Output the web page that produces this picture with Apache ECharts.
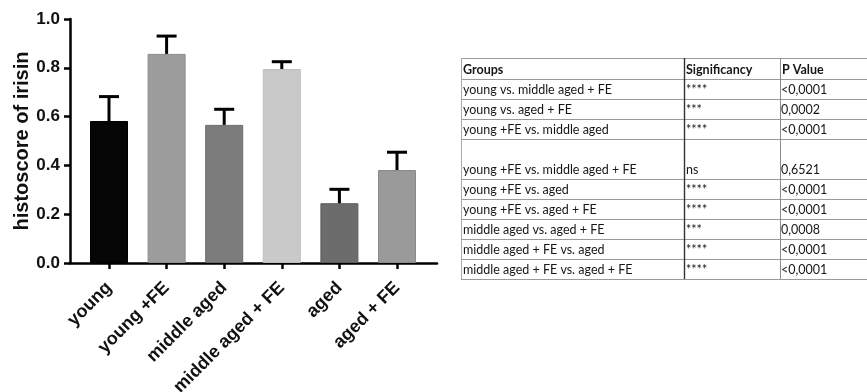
<!DOCTYPE html>
<html><head><meta charset="utf-8">
<script src="https://cdn.jsdelivr.net/npm/echarts@6/dist/echarts.min.js"></script>
<style>html,body{margin:0;padding:0;background:#fff}#c{width:867px;height:392px}</style>
</head><body><div id="c"></div>
<script>
// ---- data ----
const categories = ['young', 'young +FE', 'middle aged', 'middle aged + FE', 'aged', 'aged + FE'];
const means = [0.582, 0.857, 0.566, 0.795, 0.245, 0.381];
const sem = [0.100, 0.073, 0.064, 0.030, 0.057, 0.073];
const yTicks = [0.0, 0.2, 0.4, 0.6, 0.8, 1.0];
const tableHeader = ['Groups', 'Significancy', 'P Value'];
const comparisons = [
  'young vs. middle aged + FE',
  'young vs. aged + FE',
  'young +FE vs. middle aged',
  'young +FE vs. middle aged + FE',
  'young +FE vs. aged',
  'young +FE vs. aged + FE',
  'middle aged vs. aged + FE',
  'middle aged + FE vs. aged',
  'middle aged + FE vs. aged + FE'
];
const significance = ['****', '***', '****', 'ns', '****', '****', '***', '****', '****'];
const pValues = ['<0,0001', '0,0002', '<0,0001', '0,6521', '<0,0001', '<0,0001', '0,0008', '<0,0001', '<0,0001'];
const barColors = ['#050505', '#9c9c9c', '#7c7c7c', '#c9c9c9', '#6c6c6c', '#9a9a9a'];
const barBorders = ['#000000', '#8c8c8c', '#6c6c6c', '#bdbdbd', '#5c5c5c', '#8a8a8a'];

// ---- layout ----
const chart = echarts.init(document.getElementById('c'), null, {renderer: 'canvas'});
const axisFont = 'Liberation Sans, Arial, sans-serif';
const tableFont = 'Lato, "Open Sans", sans-serif';
const colX = [461, 684, 780, 867];
const rowTops = [58, 79, 99, 119, 139, 179, 199, 219, 239, 259, 279];
const graphics = [];
rowTops.forEach(function (y) {
  graphics.push({type: 'line', shape: {x1: colX[0], y1: y + 0.5, x2: colX[3], y2: y + 0.5},
    style: {stroke: '#9a9a9a', lineWidth: 1}, silent: true});
});
const tTop = rowTops[0], tBot = rowTops[rowTops.length - 1];
graphics.push({type: 'line', shape: {x1: colX[0] + 0.5, y1: tTop, x2: colX[0] + 0.5, y2: tBot}, style: {stroke: '#aaaaaa', lineWidth: 1}});
graphics.push({type: 'line', shape: {x1: colX[1] + 0.5, y1: tTop, x2: colX[1] + 0.5, y2: tBot}, style: {stroke: '#333333', lineWidth: 1.4}});
graphics.push({type: 'line', shape: {x1: colX[2] + 0.5, y1: tTop, x2: colX[2] + 0.5, y2: tBot}, style: {stroke: '#8a8a8a', lineWidth: 1}});
function addText(txt, x, yBottom, bold) {
  graphics.push({type: 'text', x: x, y: yBottom - 10,
    style: {text: txt, fill: '#161616', font: (bold ? 'bold ' : '') + '12.5px ' + tableFont,
      verticalAlign: 'middle', textVerticalAlign: 'middle', align: 'left'}, silent: true});
}
tableHeader.forEach(function (h, j) { addText(h, colX[j] + 2, rowTops[1] + 1, true); });
comparisons.forEach(function (c, i) {
  const yb = rowTops[i + 2] + 1;
  addText(c, colX[0] + 2, yb, false);
  addText(significance[i], colX[1] + 2, yb, false);
  addText(pValues[i], colX[2] + 1, yb, false);
});

const option = {
  animation: false,
  backgroundColor: '#ffffff',
  grid: [
    {left: 70, right: 430, top: 19, bottom: 129, containLabel: false, outerBoundsMode: 'none'},
    {left: 80.2, right: 441.2, top: 19, bottom: 129, containLabel: false, outerBoundsMode: 'none'}
  ],
  xAxis: [
    {gridIndex: 0, type: 'value', min: 0, max: 1, axisLine: {show: true, lineStyle: {color: '#000', width: 2.5}},
      axisTick: {show: false}, axisLabel: {show: false}, splitLine: {show: false}},
    {gridIndex: 1, type: 'category', data: categories, boundaryGap: true,
      axisLine: {show: false}, axisTick: {show: true, alignWithLabel: true, length: 6, lineStyle: {color: '#000', width: 2.5}},
      axisLabel: {interval: 0, rotate: 45, margin: 22,
        color: '#111', fontSize: 18, fontWeight: 'bold', fontFamily: axisFont},
      splitLine: {show: false}}
  ],
  yAxis: [
    {gridIndex: 0, type: 'value', min: yTicks[0], max: yTicks[yTicks.length - 1], interval: 0.2,
      name: 'histoscore of irisin', nameLocation: 'middle', nameGap: 38,
      nameTextStyle: {fontSize: 20, fontWeight: 'bold', color: '#111', fontFamily: axisFont},
      axisLine: {show: true, lineStyle: {color: '#000', width: 2.5}},
      axisTick: {show: true, length: 6, lineStyle: {color: '#000', width: 2.5}},
      axisLabel: {margin: 10, fontSize: 17, fontWeight: 'bold', color: '#111', fontFamily: axisFont,
        formatter: function (v) { return v.toFixed(1); }},
      splitLine: {show: false}},
    {gridIndex: 1, type: 'value', min: 0, max: 1, show: false}
  ],
  series: [
    {type: 'bar', xAxisIndex: 1, yAxisIndex: 1, barWidth: 38,
      data: means.map(function (v, i) { return {value: v, itemStyle: {color: barColors[i], borderColor: barBorders[i], borderWidth: 1}}; }),
      z: 2},
    {type: 'custom', xAxisIndex: 1, yAxisIndex: 1, z: 3,
      data: means.map(function (v, i) { return [i, v, v + sem[i]]; }),
      renderItem: function (params, api) {
        const p0 = api.coord([api.value(0), api.value(1)]);
        const p1 = api.coord([api.value(0), api.value(2)]);
        const st = {stroke: '#000', lineWidth: 3};
        return {type: 'group', children: [
          {type: 'line', shape: {x1: p0[0], y1: p0[1], x2: p1[0], y2: p1[1]}, style: st},
          {type: 'line', shape: {x1: p1[0] - 10, y1: p1[1], x2: p1[0] + 10, y2: p1[1]}, style: st}
        ]};
      }}
  ],
  graphic: graphics
};
chart.setOption(option);
</script>
</body></html>
